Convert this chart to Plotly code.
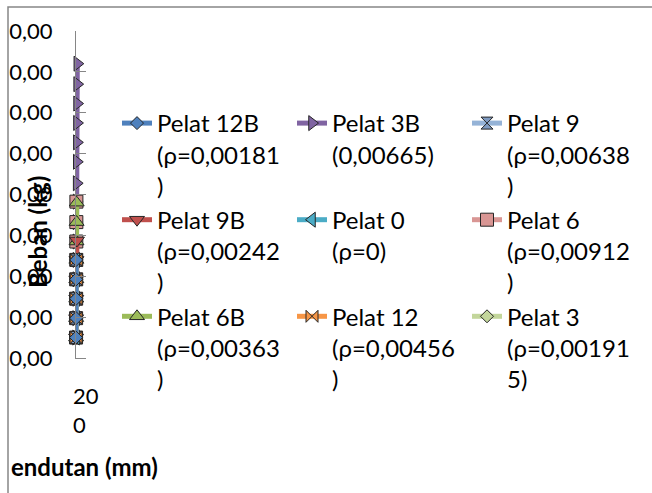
import plotly.graph_objects as go

# ---------------- data ----------------
y_tick_vals = [0, 200, 400, 600, 800, 1000, 1200, 1400, 1600]
y_tick_text = ["0,00", "0,00", "0,00", "0,00", "0,00", "0,00", "0,00", "0,00", "0,00"]
x_tick_label = "200"

beban_3b = [100, 195, 290, 385, 480, 570, 665, 765, 855, 960, 1055, 1150, 1245, 1340, 1440]
lend_3b = [1, 2, 4, 5, 7, 8, 10, 12, 13, 15, 17, 19, 21, 23, 26]

beban_6 = [100, 195, 290, 385, 480, 570, 665, 765]
lend_6 = [1, 2, 3, 4, 5, 6, 7, 8]

beban_6b = [100, 195, 290, 385, 480, 570, 665, 760]
lend_6b = [2, 3, 5, 6, 8, 10, 12, 14]

beban_9b = [100, 195, 290, 385, 480, 575]
lend_9b = [2, 3, 5, 7, 9, 18]

beban_9 = [100, 195, 290, 385, 480]
lend_9 = [1, 2, 3, 4, 5]

beban_0 = [100, 195, 290, 385, 480]
lend_0 = [1, 2, 3, 4, 5]

beban_12 = [100, 195, 290, 385, 480]
lend_12 = [1, 2, 3, 4, 5]

beban_3 = [100, 195, 290, 385, 480]
lend_3 = [1, 2, 3, 4, 5]

beban_12b = [100, 195, 290, 385, 480]
lend_12b = [1, 2, 3, 4, 5]

# ---------------- figure ----------------
FONT = "Lato"
W, H = 652, 493
ML, MT = 8, 7
PW, PH = W - ML, H - MT

def px_x(p):
    return (p - ML) / PW

def px_y(p):
    return (H - p) / PH

edge = "#262626"
series = [
    # name, x, y, line color, symbol, marker fill, size, rank
    ("Pelat 3B<br>(0,00665)", lend_3b, beban_3b, "#8064A2", "triangle-right", "#8064A2", 13, 2),
    ("Pelat 6<br>(ρ=0,00912<br>)", lend_6, beban_6, "#D99694", "square", "#D99694", 13, 6),
    ("Pelat 6B<br>(ρ=0,00363<br>)", lend_6b, beban_6b, "#9BBB59", "triangle-up", "#9BBB59", 13, 7),
    ("Pelat 9B<br>(ρ=0,00242<br>)", lend_9b, beban_9b, "#C0504D", "triangle-down", "#C0504D", 13, 4),
    ("Pelat 9<br>(ρ=0,00638<br>)", lend_9, beban_9, "#95B3D7", "hourglass", "#7F9BC2", 12, 3),
    ("Pelat 0<br>(ρ=0)", lend_0, beban_0, "#4BACC6", "triangle-left", "#4BACC6", 13, 5),
    ("Pelat 12<br>(ρ=0,00456<br>)", lend_12, beban_12, "#F79646", "bowtie", "#F79646", 12, 8),
    ("Pelat 3<br>(ρ=0,00191<br>5)", lend_3, beban_3, "#C3D69B", "diamond", "#C3D69B", 10, 9),
    ("Pelat 12B<br>(ρ=0,00181<br>)", lend_12b, beban_12b, "#4F81BD", "diamond", "#4F81BD", 10, 1),
]

fig = go.Figure()
for name, xs, ys, lc, sym, fc, sz, rank in series:
    fig.add_trace(go.Scatter(
        x=xs, y=ys, name=name, mode="lines+markers",
        line=dict(color=lc, width=5),
        marker=dict(symbol=sym, color=fc, size=sz, line=dict(color=edge, width=1)),
        legendrank=rank, cliponaxis=False,
    ))

fig.update_layout(
    width=W, height=H,
    margin=dict(l=ML, r=0, t=MT, b=0, pad=0, autoexpand=False),
    paper_bgcolor="white", plot_bgcolor="white",
    font=dict(family=FONT, size=24, color="#000000"),
    showlegend=True,
    legend=dict(
        orientation="h", x=px_x(117), y=px_y(101), xanchor="left", yanchor="top",
        entrywidth=130, entrywidthmode="pixels", valign="top",
        font=dict(family=FONT, size=24, color="#000000"),
        bgcolor="rgba(0,0,0,0)", borderwidth=0, traceorder="normal",
        tracegroupgap=0, maxheight=480,
    ),
    xaxis=dict(
        domain=[px_x(76), px_x(86)], range=[0, 200],
        showgrid=False, zeroline=False, showticklabels=False,
        showline=True, linecolor="#868686", linewidth=1, ticks="",
    ),
    yaxis=dict(
        domain=[px_y(358), px_y(31)], range=[0, 1600],
        tickvals=y_tick_vals, ticktext=y_tick_text,
        showgrid=False, zeroline=False,
        showline=True, linecolor="#868686", linewidth=1,
        ticks="inside", ticklen=10, tickcolor="#868686", tickwidth=1,
        tickfont=dict(family=FONT, size=22, color="#000000"),
        ticklabelstandoff=18,
    ),
)

# wrapped x tick label "200"
fig.add_annotation(
    x=200, y=px_y(358), xref="x", yref="paper",
    text=x_tick_label[:2] + "<br>" + x_tick_label[2:], align="left",
    showarrow=False, xanchor="center", yanchor="top", yshift=-22,
    font=dict(family=FONT, size=22, color="#000000"),
)
# axis titles
fig.add_annotation(
    x=px_x(38), y=px_y(232), xref="paper", yref="paper",
    text="<b>Beban (kg)</b>", textangle=-90, showarrow=False,
    xanchor="center", yanchor="middle",
    font=dict(family=FONT, size=24, color="#000000"),
)
fig.add_annotation(
    x=px_x(9), y=px_y(466), xref="paper", yref="paper",
    text="<b>endutan (mm)</b>", showarrow=False,
    xanchor="left", yanchor="middle",
    font=dict(family=FONT, size=24, color="#000000"),
)
# chart border
fig.add_shape(type="rect", xref="paper", yref="paper",
              x0=0, y0=-0.05, x1=1.05, y1=1,
              line=dict(color="#868686", width=1.5), fillcolor="rgba(0,0,0,0)")

fig.write_html("out.html")
